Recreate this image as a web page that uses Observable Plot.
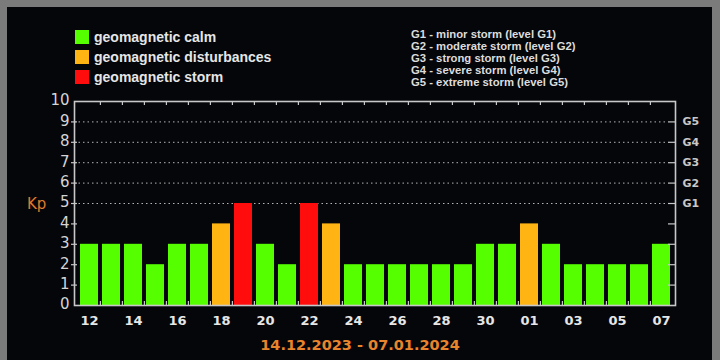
<!DOCTYPE html>
<html><head><meta charset="utf-8">
<script src="https://cdn.jsdelivr.net/npm/d3@7"></script>
<script src="https://cdn.jsdelivr.net/npm/@observablehq/plot@0.6"></script>
<style>
body{margin:0;background:#7b7b7b;}
#wrap{position:relative;width:720px;height:360px;overflow:hidden;background:#7b7b7b;}
#inner{position:absolute;left:7px;top:7px;width:705px;height:353px;background:#05060a;}
#chart{position:absolute;left:0;top:0;}
.leg{position:absolute;font-family:"Liberation Sans",Arial,sans-serif;font-weight:bold;color:#e6e6e6;white-space:nowrap;}
.sw{position:absolute;width:14px;height:14px;}
</style></head><body>
<div id="wrap"><div id="inner"></div><div id="chart"></div><div id="overlay"></div></div>
<script>
const days = ["12","13","14","15","16","17","18","19","20","21","22","23","24","25","26","27","28","29","30","31","01","02","03","04","05","06","07"];
const kp = [3,3,3,2,3,3,4,5,3,2,5,4,2,2,2,2,2,2,3,3,4,3,2,2,2,2,3];
const levelNames = ["geomagnetic calm","geomagnetic disturbances","geomagnetic storm"];
const levelColors = ["#55ff00","#ffb414","#ff0c0c"];
const gLabels = ["G1","G2","G3","G4","G5"];
const gDescriptions = ["G1 - minor storm (level G1)","G2 - moderate storm (level G2)","G3 - strong storm (level G3)","G4 - severe storm (level G4)","G5 - extreme storm (level G5)"];
const dateRange = "14.12.2023 - 07.01.2024";
const yLabel = "Kp";

const data = days.map((d, i) => ({day: d, kp: kp[i], level: kp[i] >= 5 ? levelNames[2] : kp[i] >= 4 ? levelNames[1] : levelNames[0]}));

const W = 720, H = 360, mL = 74, mR = 45, mT = 101, mB = 55;
const innerW = W - mL - mR, innerH = H - mT - mB;
const pIn = 0.2, pOut = 0.15;
const step = innerW / (days.length - pIn + 2 * pOut);

const plot = Plot.plot({
  width: W, height: H,
  marginLeft: mL, marginRight: mR, marginTop: mT, marginBottom: mB,
  style: {background: "transparent", color: "#d0d0d0", fontFamily: "DejaVu Sans", overflow: "visible"},
  x: {type: "band", domain: days, paddingInner: pIn, paddingOuter: pOut, axis: null, label: null},
  y: {domain: [0, 10], axis: null, label: null},
  color: {domain: levelNames, range: levelColors},
  marks: [
    Plot.ruleY([5, 6, 7, 8, 9], {stroke: "#b4b4b4", strokeDasharray: "1.5,3", insetRight: 7}),
    Plot.barY(data, {x: "day", y: "kp", fill: "level"}),
    Plot.ruleY(d3.range(1, 10), {stroke: "#c8c8c8", strokeWidth: 1.2, insetLeft: -3, insetRight: innerW - 3}),
    Plot.ruleY(d3.range(1, 10), {stroke: "#c8c8c8", strokeWidth: 1.2, insetLeft: innerW - 7}),
    Plot.ruleX(days.slice(1), {x: d => d, dx: -step / 2, stroke: "#c8c8c8", strokeWidth: 1.2, insetBottom: innerH - 4}),
    Plot.ruleX(days.slice(1), {x: d => d, dx: -step / 2, stroke: "#c8c8c8", strokeWidth: 1.2, insetTop: innerH - 4}),
    Plot.frame({stroke: "#c8c8c8", strokeWidth: 1.6}),
    Plot.axisX(days.filter((d, i) => i % 2 === 0), {tickSize: 0, tickPadding: 10, fontSize: 13, fontWeight: "bold", fill: "#e6e6e6", label: null}),
    Plot.axisY(d3.range(0, 11), {tickSize: 0, tickPadding: 5, fontSize: 15, fill: "#d4d4d4", dy: -1, label: null}),
    Plot.axisY([5, 6, 7, 8, 9], {anchor: "right", tickFormat: d => gLabels[d - 5], tickSize: 0, tickPadding: 7, fontSize: 11, fontWeight: "bold", fill: "#c8c8c8", label: null})
  ]
});
document.getElementById("chart").appendChild(plot);

const ov = document.getElementById("overlay");
function add(html) { ov.insertAdjacentHTML("beforeend", html); }
levelNames.forEach((n, i) => {
  add(`<div class="sw" style="left:75px;top:${30 + 20 * i}px;background:${levelColors[i]}"></div>`);
  add(`<div class="leg" style="left:94px;top:${30 + 20 * i}px;font-size:14px;line-height:14px;">${n}</div>`);
});
gDescriptions.forEach((t, i) => {
  add(`<div class="leg" style="left:411px;top:${27.5 + 12.1 * i}px;font-size:11.3px;line-height:12px;color:#dcdcdc;">${t}</div>`);
});
add(`<div style="position:absolute;left:27px;top:195px;font-family:'DejaVu Sans';font-size:15px;line-height:18px;color:#e07b2c;">${yLabel}</div>`);
add(`<div style="position:absolute;left:0;width:720px;text-align:center;top:336px;font-family:'DejaVu Sans';font-weight:bold;font-size:14.5px;line-height:18px;color:#e8842c;">${dateRange}</div>`);
</script>
</body></html>
